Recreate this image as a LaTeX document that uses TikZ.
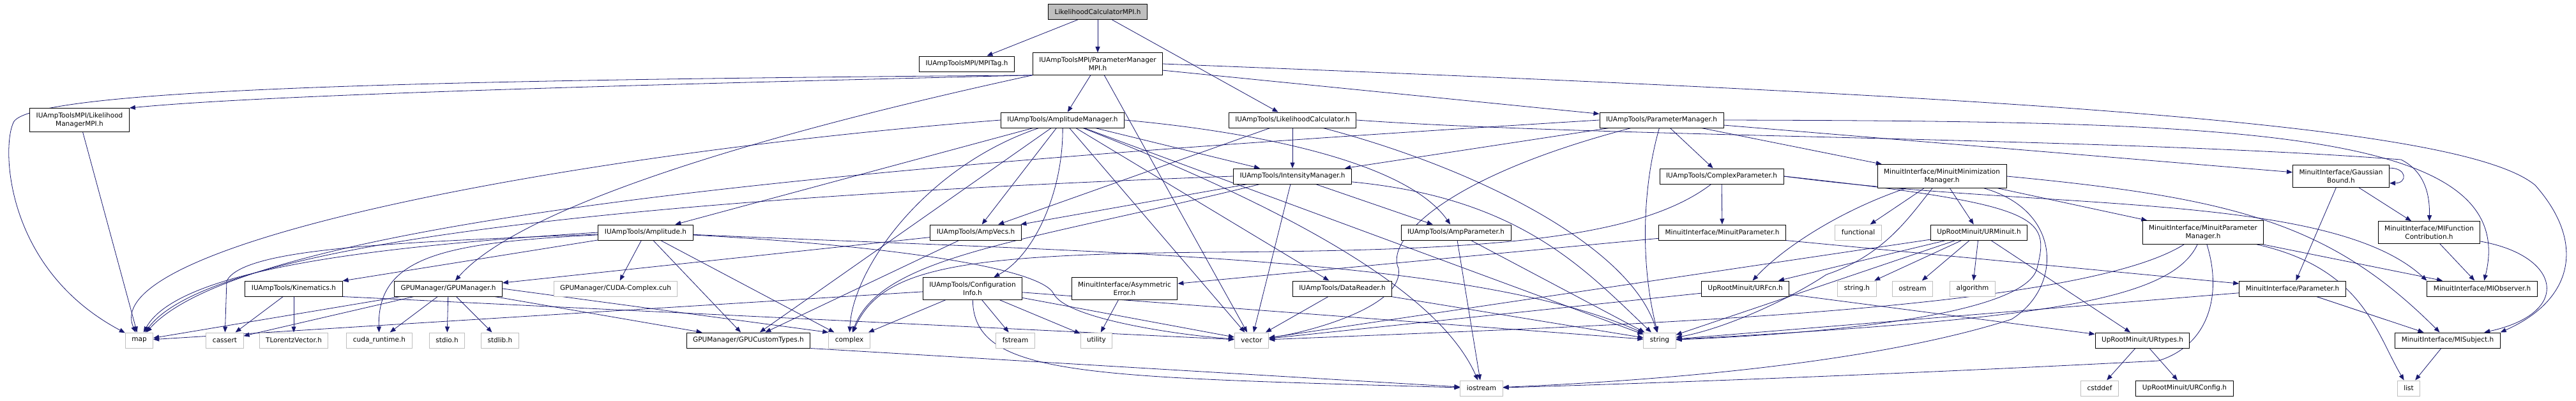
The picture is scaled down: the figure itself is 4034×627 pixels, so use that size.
\documentclass[tikz,border=0pt]{standalone}
\usepackage{fontspec}
\setmainfont{DejaVu Sans}
\usetikzlibrary{arrows.meta,backgrounds}
\definecolor{edgeblue}{RGB}{25,25,112}
\definecolor{extgray}{RGB}{191,191,191}
\begin{document}
\begin{tikzpicture}
  [x=1pt,y=-1pt,every node/.style={draw=black,line width=1pt,fill=white,
   font=\fontsize{10.5}{13.6}\selectfont,align=center,inner xsep=10pt,
   inner ysep=6.5pt,minimum height=24pt}]
  \tikzstyle{extbox} = [draw=extgray]
  \tikzstyle{rootbox} = [fill=extgray]
  \tikzstyle{dep} = [draw=edgeblue,line width=0.8pt,-{Triangle[length=9pt,width=7pt]}]
  \useasboundingbox (0,0) rectangle (4034,627);

  % rows 0-2
  \node[rootbox] (root) at (1719,18.5) {LikelihoodCalculatorMPI.h};
  \node (mpitag) at (1514,100) {IUAmpToolsMPI/MPITag.h};
  \node (pmmpi) at (1719,100) {IUAmpToolsMPI/ParameterManager\\MPI.h};
  \node (lmmpi) at (124.5,188) {IUAmpToolsMPI/Likelihood\\ManagerMPI.h};
  \node (ampmgr) at (1664,188) {IUAmpTools/AmplitudeManager.h};
  \node (likcalc) at (2024,188) {IUAmpTools/LikelihoodCalculator.h};
  \node (parmgr) at (2602,188) {IUAmpTools/ParameterManager.h};
  % row 3
  \node (intmgr) at (2024,276) {IUAmpTools/IntensityManager.h};
  \node (cplxpar) at (2696,276) {IUAmpTools/ComplexParameter.h};
  \node (minmgr) at (3041,276) {MinuitInterface/MinuitMinimization\\Manager.h};
  \node (gauss) at (3666,276) {MinuitInterface/Gaussian\\Bound.h};
  % row 4
  \node (amplitude) at (1011,364) {IUAmpTools/Amplitude.h};
  \node (ampvecs) at (1528,364) {IUAmpTools/AmpVecs.h};
  \node (amppar) at (2280,364) {IUAmpTools/AmpParameter.h};
  \node (minpar) at (2697,364) {MinuitInterface/MinuitParameter.h};
  \node[extbox] (functional) at (2910,364) {functional};
  \node (urminuit) at (3099,364) {UpRootMinuit/URMinuit.h};
  \node (minparmgr) at (3450,364) {MinuitInterface/MinuitParameter\\Manager.h};
  \node (mifc) at (3804,364) {MinuitInterface/MIFunction\\Contribution.h};
  % row 5
  \node (kin) at (460,452) {IUAmpTools/Kinematics.h};
  \node (gpumgr) at (702,452) {GPUManager/GPUManager.h};
  \node[extbox] (cudacplx) at (964,452) {GPUManager/CUDA-Complex.cuh};
  \node (config) at (1523,452) {IUAmpTools/Configuration\\Info.h};
  \node (asymerr) at (1761,452) {MinuitInterface/Asymmetric\\Error.h};
  \node (datareader) at (2102,452) {IUAmpTools/DataReader.h};
  \node (urfcn) at (2733,452) {UpRootMinuit/URFcn.h};
  \node[extbox] (stringh) at (2908,452) {string.h};
  \node[extbox] (ostream) at (2995,452) {ostream};
  \node[extbox] (algorithm) at (3089,452) {algorithm};
  \node (parameter) at (3590,452) {MinuitInterface/Parameter.h};
  \node (miobs) at (3887,452) {MinuitInterface/MIObserver.h};
  % row 6
  \node[extbox] (map) at (218,533) {map};
  \node[extbox] (cassert) at (352,533) {cassert};
  \node[extbox] (tlv) at (460,533) {TLorentzVector.h};
  \node[extbox] (cudart) at (594,533) {cuda\_runtime.h};
  \node[extbox] (stdio) at (700,533) {stdio.h};
  \node[extbox] (stdlib) at (783,533) {stdlib.h};
  \node (gputypes) at (1172,533) {GPUManager/GPUCustomTypes.h};
  \node[extbox] (complex) at (1330,533) {complex};
  \node[extbox] (fstream) at (1590,533) {fstream};
  \node[extbox] (utility) at (1717,533) {utility};
  \node[extbox] (vector) at (1960,533) {vector};
  \node[extbox] (string) at (2599,533) {string};
  \node (urtypes) at (3355,533) {UpRootMinuit/URtypes.h};
  \node (misubj) at (3833,533) {MinuitInterface/MISubject.h};
  % row 7
  \node[extbox] (iostream) at (2320,608) {iostream};
  \node[extbox] (cstddef) at (3288,608) {cstddef};
  \node (urconfig) at (3421,608) {UpRootMinuit/URConfig.h};
  \node[extbox] (list) at (3772,608) {list};

  \begin{scope}[on background layer]
  \foreach \from/\to in {root/mpitag,root/pmmpi,root/likcalc,pmmpi/ampmgr,pmmpi/parmgr,
      lmmpi/map,ampmgr/amplitude,ampmgr/ampvecs,ampmgr/intmgr,ampmgr/datareader,
      ampmgr/vector,ampmgr/gputypes,ampmgr/string,likcalc/intmgr,likcalc/ampvecs,
      parmgr/intmgr,parmgr/cplxpar,parmgr/minmgr,parmgr/gauss,intmgr/ampvecs,
      intmgr/amppar,intmgr/vector,cplxpar/minpar,minmgr/functional,minmgr/urminuit,
      minmgr/minparmgr,urminuit/stringh,urminuit/ostream,urminuit/algorithm,
      urminuit/urfcn,urminuit/urtypes,urminuit/vector,urminuit/string,urfcn/urtypes,
      urfcn/vector,minpar/asymerr,gauss/parameter,gauss/mifc,minparmgr/miobs,mifc/miobs,
      amplitude/cudacplx,amplitude/gputypes,amplitude/complex,amplitude/kin,
      ampvecs/gpumgr,ampvecs/gputypes,amppar/string,amppar/iostream,kin/cassert,kin/tlv,
      gpumgr/map,gpumgr/cassert,gpumgr/cudart,gpumgr/stdio,gpumgr/stdlib,gpumgr/gputypes,
      config/map,config/complex,config/fstream,config/utility,config/vector,config/string,
      asymerr/utility,datareader/vector,datareader/string,parameter/string,
      parameter/misubj,misubj/list,urtypes/cstddef,urtypes/urconfig}
    \draw[dep] (\from) -- (\to);

  % long and bent connectors
  \draw[dep] (pmmpi.south west) .. controls (700,125) and (60,138) .. (22,190) .. controls (2,225) and (5,420) .. (map);
  \draw[dep] (pmmpi.south west) .. controls (900,135) and (400,150) .. (lmmpi.north east);
  \draw[dep] (pmmpi.south west) .. controls (1100,230) and (800,340) .. (gpumgr);
  \draw[dep] (pmmpi.-60) -- (vector);
  \draw[dep] (pmmpi.east) .. controls (3100,150) and (3850,190) .. (3970,290) .. controls (4050,380) and (4030,470) .. (misubj.north east);
  \draw[dep] (ampmgr.west) .. controls (900,240) and (150,380) .. (map);
  \draw[dep] (ampmgr.east) .. controls (1950,205) and (2200,250) .. (amppar);
  \draw[dep] (ampmgr) .. controls (1665,300) and (1620,400) .. (config);
  \draw[dep] (ampmgr) .. controls (1450,260) and (1335,420) .. (complex);
  \draw[dep] (ampmgr) .. controls (2000,320) and (2250,450) .. (iostream);
  \draw[dep] (likcalc.east) .. controls (2500,215) and (3300,215) .. (3760,250) .. controls (3800,270) and (3805,310) .. (mifc);
  \draw[dep] (likcalc) .. controls (2300,260) and (2550,380) .. (string);
  \draw[dep] (parmgr.west) .. controls (1500,250) and (400,330) .. (map);
  \draw[dep] (parmgr) .. controls (2570,300) and (2570,420) .. (string);
  \draw[dep] (parmgr.east) .. controls (3500,190) and (3950,200) .. (miobs);
  \draw[dep] (parmgr) .. controls (2250,280) and (2170,380) .. (2190,420) .. controls (2200,480) and (2050,520) .. (vector);
  \draw[dep] (intmgr.west) .. controls (1000,310) and (330,380) .. (map);
  \draw[dep] (intmgr) .. controls (2380,310) and (2480,420) .. (string);
  \draw[dep] (intmgr) .. controls (1600,380) and (1380,400) .. (complex);
  \draw[dep] (cplxpar.east) .. controls (3200,330) and (3650,300) .. (miobs.north west);
  \draw[dep] (cplxpar.east) .. controls (3200,320) and (3210,340) .. (3190,420) .. controls (3170,500) and (2800,525) .. (string);
  \draw[dep] (cplxpar) .. controls (2560,380) and (2300,392) .. (1900,395) .. controls (1500,398) and (1380,420) .. (complex);
  \draw[dep] (minmgr) .. controls (2880,330) and (2790,390) .. (urfcn);
  \draw[dep] (minmgr) .. controls (2990,340) and (2950,400) .. (2860,430) .. controls (2800,470) and (2700,515) .. (string);
  \draw[dep] (minmgr) .. controls (3230,330) and (3230,450) .. (3150,500) .. controls (2900,580) and (2500,600) .. (iostream);
  \draw[dep] (minmgr.east) .. controls (3500,310) and (3650,350) .. (misubj);
  \draw[dep] (minpar.south east) -- (parameter);
  \draw[dep] ([yshift=-5pt]gauss.north east) .. controls +(28,0) and +(28,0) .. ([yshift=7pt]gauss.south east);
  \draw[dep] (minparmgr) .. controls (3250,490) and (2500,510) .. (vector);
  \draw[dep] (minparmgr) .. controls (3400,470) and (3200,500) .. (string);
  \draw[dep] (minparmgr) .. controls (3480,460) and (3460,540) .. (3380,565) .. controls (3000,585) and (2600,600) .. (iostream);
  \draw[dep] (minparmgr) .. controls (3700,420) and (3720,520) .. (list);
  \draw[dep] (mifc) .. controls (4010,400) and (4030,490) .. (misubj);
  \draw[dep] (amplitude.west) .. controls (600,385) and (280,420) .. (map);
  \draw[dep] (amplitude) .. controls (600,380) and (380,390) .. (355,440) -- (cassert);
  \draw[dep] (amplitude) .. controls (700,380) and (590,400) .. (cudart);
  \draw[dep] (amplitude) .. controls (1400,385) and (1630,420) .. (1650,460) .. controls (1670,500) and (1850,525) .. (vector);
  \draw[dep] (amplitude) .. controls (1700,395) and (2300,400) .. (string);
  \draw[dep] (kin.south east) -- (vector);
  \draw[dep] (gpumgr.east) -- (complex.north west);
  \draw[dep] (config) .. controls (1525,590) and (1700,590) .. (iostream);
  \draw[dep] (gputypes.south east) -- (iostream);
  \end{scope}
\end{tikzpicture}
\end{document}
